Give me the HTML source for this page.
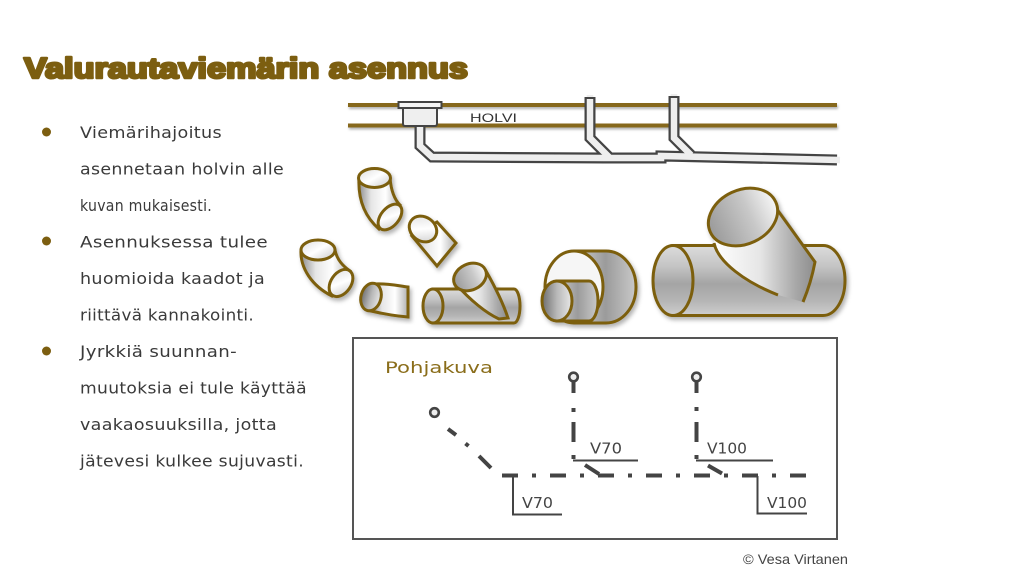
<!DOCTYPE html>
<html><head><meta charset="utf-8"><style>
html,body{margin:0;padding:0;background:#fff;}
svg{display:block;}
</style></head><body>
<svg width="1024" height="587" viewBox="0 0 1024 587" xmlns="http://www.w3.org/2000/svg">
<defs>
<filter id="sh" x="-20%" y="-20%" width="140%" height="140%"><feDropShadow dx="2" dy="3" stdDeviation="2.2" flood-color="#000" flood-opacity="0.3"/></filter>
<filter id="sh2" x="-5%" y="-50%" width="110%" height="200%"><feDropShadow dx="1" dy="2" stdDeviation="1.2" flood-color="#000" flood-opacity="0.3"/></filter>
<linearGradient id="elb" x1="0" y1="0" x2="1" y2="0">
<stop offset="0" stop-color="#8e8e8e"/><stop offset="0.3" stop-color="#e6e6e6"/><stop offset="0.65" stop-color="#ffffff"/><stop offset="1" stop-color="#b0b0b0"/></linearGradient>
<linearGradient id="inr" x1="0" y1="0" x2="1" y2="1">
<stop offset="0" stop-color="#dcdcdc"/><stop offset="0.5" stop-color="#ffffff"/><stop offset="1" stop-color="#c8c8c8"/></linearGradient>
<linearGradient id="inrD" x1="0" y1="0" x2="1" y2="0">
<stop offset="0" stop-color="#6e6e6e"/><stop offset="0.5" stop-color="#b8b8b8"/><stop offset="1" stop-color="#e8e8e8"/></linearGradient>
<linearGradient id="hor" x1="0" y1="0" x2="0" y2="1">
<stop offset="0" stop-color="#dcdcdc"/><stop offset="0.3" stop-color="#c4c4c4"/><stop offset="0.55" stop-color="#a4a4a4"/><stop offset="0.8" stop-color="#b6b6b6"/><stop offset="1" stop-color="#cfcfcf"/></linearGradient>
<linearGradient id="red" x1="0" y1="0" x2="1" y2="0">
<stop offset="0" stop-color="#cfcfcf"/><stop offset="0.5" stop-color="#9b9b9b"/><stop offset="1" stop-color="#c9c9c9"/></linearGradient>
<linearGradient id="br" x1="0" y1="0" x2="1" y2="0">
<stop offset="0" stop-color="#ffffff"/><stop offset="0.45" stop-color="#e6e6e6"/><stop offset="0.8" stop-color="#a8a8a8"/><stop offset="1" stop-color="#8c8c8c"/></linearGradient>
<linearGradient id="bring" x1="0" y1="0" x2="1" y2="0">
<stop offset="0" stop-color="#9a9a9a"/><stop offset="0.6" stop-color="#c8c8c8"/><stop offset="1" stop-color="#f6f6f6"/></linearGradient>
</defs>

<!-- Title -->
<text x="24" y="78" font-family="Liberation Sans, sans-serif" font-weight="bold" font-size="29" fill="#7c5e10" stroke="#7c5e10" stroke-width="2.6" stroke-linejoin="round" textLength="444" lengthAdjust="spacingAndGlyphs">Valurautaviemärin asennus</text>

<!-- Bullets -->
<g fill="#7c5e10">
<circle cx="46.5" cy="132" r="4.5"/>
<circle cx="46.5" cy="241" r="4.5"/>
<circle cx="46.5" cy="351" r="4.5"/>
</g>
<g font-family="DejaVu Sans, Liberation Sans, sans-serif" font-size="16" fill="#3a3a3a" letter-spacing="0.3">
<text x="80" y="138" textLength="142" lengthAdjust="spacingAndGlyphs">Viemärihajoitus</text>
<text x="80" y="174.5" textLength="204" lengthAdjust="spacingAndGlyphs">asennetaan holvin alle</text>
<text x="80" y="211" textLength="132" lengthAdjust="spacingAndGlyphs">kuvan mukaisesti.</text>
<text x="80" y="247.5" textLength="188" lengthAdjust="spacingAndGlyphs">Asennuksessa tulee</text>
<text x="80" y="284" textLength="185" lengthAdjust="spacingAndGlyphs">huomioida kaadot ja</text>
<text x="80" y="320.5" textLength="174" lengthAdjust="spacingAndGlyphs">riittävä kannakointi.</text>
<text x="80" y="357" textLength="157" lengthAdjust="spacingAndGlyphs">Jyrkkiä suunnan-</text>
<text x="80" y="393.5" textLength="227" lengthAdjust="spacingAndGlyphs">muutoksia ei tule käyttää</text>
<text x="80" y="430" textLength="197" lengthAdjust="spacingAndGlyphs">vaakaosuuksilla, jotta</text>
<text x="80" y="466.5" textLength="224" lengthAdjust="spacingAndGlyphs">jätevesi kulkee sujuvasti.</text>
</g>

<!-- Top: holvi lines -->
<g filter="url(#sh2)">
<line x1="348" y1="105" x2="837" y2="105" stroke="#86671a" stroke-width="4"/>
<line x1="348" y1="125.5" x2="837" y2="125.5" stroke="#86671a" stroke-width="4"/>
</g>
<text x="470" y="122" font-family="Liberation Sans, sans-serif" font-size="12" fill="#333" textLength="47" lengthAdjust="spacingAndGlyphs">HOLVI</text>

<!-- Pipes -->
<g fill="none" stroke-linejoin="miter">
<g stroke="#444" stroke-width="11">
<path d="M420,124 L420,146 L432,157 L605,158 L661,158 L661,156 L837,160"/>
<path d="M590,98 L590,138 L609,157"/>
<path d="M674,97 L674,138 L691,155"/>
</g>
<g stroke="#eeeeee" stroke-width="6.5">
<path d="M420,120 L420,146 L432,157 L605,158 L661,158 L661,156 L840,160"/>
<path d="M590,95 L590,138 L609,157"/>
<path d="M674,94 L674,138 L691,155"/>
</g>
<line x1="584.5" y1="98" x2="595.5" y2="98" stroke="#444" stroke-width="2"/>
<line x1="668.5" y1="97" x2="679.5" y2="97" stroke="#444" stroke-width="2"/>
</g>
<!-- drain box -->
<rect x="403" y="107" width="34" height="19" rx="2" fill="#efefef" stroke="#444" stroke-width="2"/>
<rect x="398.5" y="102" width="43" height="6" fill="#f4f4f4" stroke="#444" stroke-width="2"/>

<!-- Fittings -->
<g stroke="#7c5e10" stroke-width="3" filter="url(#sh)">
<path d="M359,178 C358,198 364,216 379,229 L400,205 C394,199 391,190 390,178 Z" fill="url(#elb)"/>
<ellipse cx="390" cy="217" rx="9" ry="15" transform="rotate(40 390 217)" fill="url(#inr)"/>
<ellipse cx="374.5" cy="178" rx="16" ry="9.5" fill="url(#inr)"/>
</g>
<g stroke="#7c5e10" stroke-width="3" filter="url(#sh)">
<path d="M301,250 C300,268 312,286 332,296 L350,271 C343,266 337,260 335,250 Z" fill="url(#elb)"/>
<ellipse cx="341" cy="283" rx="10" ry="15" transform="rotate(35 341 283)" fill="url(#inr)"/>
<ellipse cx="318" cy="250" rx="17" ry="10" fill="url(#inr)"/>
</g>
<g stroke="#7c5e10" stroke-width="3" filter="url(#sh)">
<path d="M412,236 L437,266 L456,243 L437,222 Z" fill="url(#elb)"/>
<ellipse cx="423" cy="229" rx="14.5" ry="12" transform="rotate(35 423 229)" fill="url(#inr)"/>
</g>
<g stroke="#7c5e10" stroke-width="3" filter="url(#sh)">
<path d="M374,284 C388,283 399,286 408,287 L408,317 C396,316 384,314 371,311 Z" fill="url(#elb)"/>
<ellipse cx="371" cy="297" rx="10" ry="14" transform="rotate(15 371 297)" fill="url(#inrD)"/>
</g>
<g stroke="#7c5e10" stroke-width="3" filter="url(#sh)">
<path d="M433,289 L514,289 A6,17 0 0 1 514,323 L433,323 Z" fill="url(#hor)"/>
<path d="M456,284 C470,300 486,313 499,319 L508,318 C502,300 494,285 486,271 Z" fill="url(#br)"/>
<ellipse cx="433" cy="306" rx="10" ry="17" fill="url(#hor)"/>
<ellipse cx="470" cy="277" rx="17" ry="13" transform="rotate(-25 470 277)" fill="url(#bring)"/>
</g>
<g stroke="#7c5e10" stroke-width="3" filter="url(#sh)">
<path d="M575,251 L606,251 A30,36 0 0 1 606,323 L575,323 Z" fill="url(#red)"/>
<ellipse cx="574" cy="287" rx="29" ry="36" fill="#f6f6f6"/>
<path d="M557,281 L589,281 A9,20 0 0 1 589,321 L557,321 Z" fill="url(#red)"/>
<ellipse cx="557" cy="301" rx="15" ry="20" fill="url(#inrD)"/>
</g>
<g stroke="#7c5e10" stroke-width="3" filter="url(#sh)">
<path d="M673,245.5 L823,245.5 A22,35 0 0 1 823,315.5 L673,315.5 Z" fill="url(#hor)"/>
<path d="M714,240 C720,262 745,282 778,295 L803,302 C808,285 812,272 816,262 L779,208 Z" fill="url(#br)" stroke="none"/>
<path d="M714,243 C718,262 745,282 778,295" fill="none"/>
<path d="M776,208 L815,262 C812,278 808,290 803,302" fill="none"/>
<ellipse cx="673" cy="280.5" rx="20" ry="35" fill="url(#hor)"/>
<ellipse cx="743" cy="217" rx="36" ry="27" transform="rotate(-25 743 217)" fill="url(#bring)"/>
</g>

<!-- Plan box -->
<rect x="353" y="338" width="484" height="201" fill="#fff" stroke="#555" stroke-width="2"/>
<text x="385" y="373" font-family="DejaVu Sans, Liberation Sans, sans-serif" font-size="16" fill="#8a6d1a" textLength="108" lengthAdjust="spacingAndGlyphs">Pohjakuva</text>

<g stroke="#444" fill="none">
<circle cx="434.5" cy="412.5" r="4.3" stroke-width="2.6" fill="#eee"/>
<circle cx="573.5" cy="377" r="4.3" stroke-width="2.6" fill="#eee"/>
<circle cx="696.5" cy="377" r="4.3" stroke-width="2.6" fill="#eee"/>
<g stroke-width="4">
<line x1="448" y1="429" x2="456" y2="435"/>
<line x1="465.5" y1="443.5" x2="468.5" y2="446"/>
<line x1="479" y1="456" x2="491" y2="468"/>
</g>
<line x1="502" y1="475.5" x2="808" y2="475.5" stroke-width="4" stroke-dasharray="16 14 4 14"/>
<g stroke-width="4">
<line x1="573.5" y1="381" x2="573.5" y2="393"/>
<line x1="573.5" y1="408" x2="573.5" y2="412"/>
<line x1="573.5" y1="422" x2="573.5" y2="442"/>
<line x1="573.5" y1="455" x2="573.5" y2="459"/>
<line x1="696.5" y1="381" x2="696.5" y2="393"/>
<line x1="696.5" y1="407" x2="696.5" y2="411"/>
<line x1="696.5" y1="422" x2="696.5" y2="442"/>
<line x1="696.5" y1="455" x2="696.5" y2="459"/>
<line x1="585" y1="465" x2="599" y2="474"/>
<line x1="708" y1="465.5" x2="722" y2="473.5"/>
</g>
<g stroke-width="2">
<polyline points="573,460.5 638,460.5"/>
<polyline points="696,460.5 773,460.5"/>
<polyline points="513,476 513,514.5 562,514.5"/>
<polyline points="757.5,476 757.5,513.5 807,513.5"/>
</g>
</g>
<g font-family="DejaVu Sans, Liberation Sans, sans-serif" font-size="15" fill="#444">
<text x="590" y="453.5" textLength="32" lengthAdjust="spacingAndGlyphs">V70</text>
<text x="707" y="453.5" textLength="40" lengthAdjust="spacingAndGlyphs">V100</text>
<text x="522" y="508" textLength="31" lengthAdjust="spacingAndGlyphs">V70</text>
<text x="767" y="508" textLength="40" lengthAdjust="spacingAndGlyphs">V100</text>
</g>

<text x="743" y="564" font-family="Liberation Sans, sans-serif" font-size="14" fill="#444" textLength="105" lengthAdjust="spacingAndGlyphs">© Vesa Virtanen</text>
</svg>
</body></html>
